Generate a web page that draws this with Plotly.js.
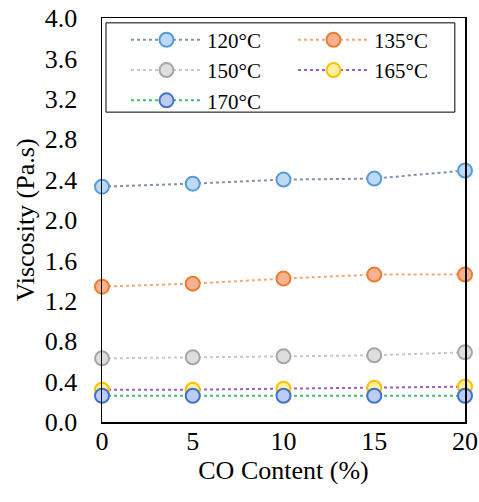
<!DOCTYPE html>
<html>
<head>
<meta charset="utf-8">
<script src="https://cdn.plot.ly/plotly-3.0.1.min.js"></script>
<style>html,body{margin:0;padding:0;background:#fff;}#chart{width:479px;height:502px;}</style>
</head>
<body>
<div id="chart"></div>
<script>
const coContent = [0, 5, 10, 15, 20];
const seriesNames = ["120°C", "135°C", "150°C", "165°C", "170°C"];
const v120 = [2.33, 2.36, 2.40, 2.41, 2.49];
const v135 = [1.34, 1.37, 1.42, 1.46, 1.46];
const v150 = [0.63, 0.64, 0.65, 0.66, 0.69];
const v165 = [0.32, 0.32, 0.33, 0.34, 0.35];
const v170 = [0.26, 0.26, 0.26, 0.26, 0.26];
const xTicks = [0, 5, 10, 15, 20];
const yTicks = [0, 0.4, 0.8, 1.2, 1.6, 2.0, 2.4, 2.8, 3.2, 3.6, 4.0];

const styles = [
  {line: "#8391a8", fill: "#bcdaf7", edge: "#5b9bd5"},
  {line: "#f4a878", fill: "#f8b292", edge: "#ed7d31"},
  {line: "#c8c8c8", fill: "#dedede", edge: "#a5a5a5"},
  {line: "#9e5fc4", fill: "#fff0a0", edge: "#ffc000"},
  {line: "#3fc070", fill: "#bccdf5", edge: "#4472c4"}
];
const values = [v120, v135, v150, v165, v170];

const traces = values.map((v, i) => ({
  x: coContent, y: v, name: seriesNames[i], type: "scatter", mode: "lines+markers",
  cliponaxis: false,
  line: {color: styles[i].line, width: 2, dash: "dot"},
  marker: {symbol: "circle", size: 14, color: styles[i].fill, line: {color: styles[i].edge, width: 2}}
}));

const fam = "Liberation Serif";
const axisFont = () => ({family: fam, size: 26, color: "#000"});

const layout = {
  width: 479, height: 502,
  margin: {l: 102, r: 14, t: 18, b: 80},
  paper_bgcolor: "#fff", plot_bgcolor: "#fff",
  font: axisFont(),
  showlegend: true,
  legend: {
    orientation: "h", x: 0.0661, y: 0.996, xanchor: "left", yanchor: "top",
    borderwidth: 0, bgcolor: "rgba(0,0,0,0)",
    entrywidth: 81, entrywidthmode: "pixels", itemwidth: 71,
    font: {family: fam, size: 21, color: "#000"}, traceorder: "normal", tracegroupgap: 0
  },
  shapes: [{
    type: "rect", xref: "paper", yref: "paper",
    x0: 0.011, x1: 0.972, y0: 0.767, y1: 0.988,
    line: {color: "#000", width: 1}, fillcolor: "rgba(0,0,0,0)", layer: "below"
  }],
  xaxis: {
    range: [0, 20], tickvals: xTicks, ticktext: xTicks.map(String),
    showgrid: false, zeroline: false, showline: true, linecolor: "#000", linewidth: 1.5,
    mirror: true, ticks: "", ticklabelstandoff: -5, tickfont: axisFont(),
    title: {text: "CO Content (%)", font: axisFont(), standoff: 4}
  },
  yaxis: {
    range: [0, 4], tickvals: yTicks, ticktext: yTicks.map(t => t.toFixed(1)),
    showgrid: false, zeroline: false, showline: true, linecolor: "#000", linewidth: 1.5,
    mirror: true, ticks: "outside", ticklen: 18, tickcolor: "rgba(0,0,0,0)", tickfont: axisFont(),
    title: {text: "Viscosity (Pa.s)", font: axisFont(), standoff: 2}
  }
};

Plotly.newPlot("chart", traces, layout, {displayModeBar: false, staticPlot: true});
</script>
</body>
</html>
